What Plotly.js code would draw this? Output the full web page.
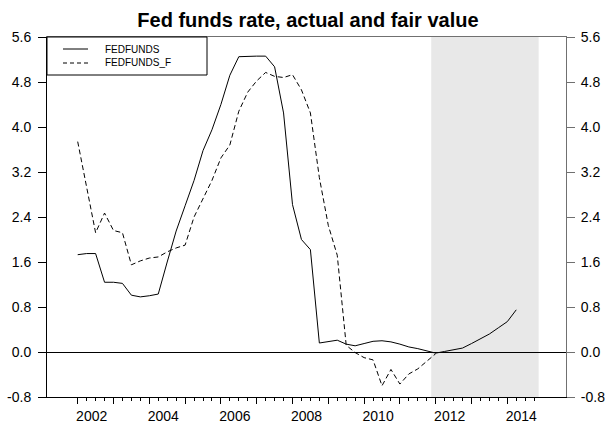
<!DOCTYPE html>
<html>
<head>
<meta charset="utf-8">
<script src="https://cdn.plot.ly/plotly-3.0.1.min.js"></script>
<style>
  html, body { margin: 0; padding: 0; background: #fff; }
  #chart { width: 611px; height: 423px; }
</style>
</head>
<body>
<div id="chart"></div>
<script>
// Quarterly periods, 2002Q1 .. 2014Q4
const quarters = [];
for (let y = 2002; y <= 2014; y++) {
  for (let q = 1; q <= 4; q++) quarters.push(y + 'Q' + q);
}

// Effective federal funds rate, percent (2002Q1 .. 2014Q2)
const fedfunds = [
  1.73, 1.75, 1.75, 1.24,
  1.24, 1.22, 1.01, 0.98,
  1.00, 1.03, 1.60, 2.15,
  2.60, 3.05, 3.58, 3.95,
  4.40, 4.92, 5.25, 5.26,
  5.26, 5.26, 5.07, 4.25,
  2.62, 2.00, 1.82, 0.16,
  0.19, 0.21, 0.14, 0.11,
  0.15, 0.19, 0.20, 0.18,
  0.14, 0.09, 0.06, 0.02,
  -0.02, 0.01, 0.04, 0.07,
  0.15, 0.24, 0.32, 0.43,
  0.54, 0.75
];

// Fitted ("fair value") rate, percent (2002Q1 .. 2012Q1)
const fedfundsF = [
  3.74, 2.95, 2.12, 2.47,
  2.16, 2.12, 1.55, 1.62,
  1.67, 1.69, 1.78, 1.85,
  1.90, 2.40, 2.72, 3.05,
  3.45, 3.68, 4.28, 4.62,
  4.82, 4.97, 4.90, 4.88,
  4.93, 4.66, 4.25, 3.10,
  2.25, 1.72, 0.12, -0.01,
  -0.10, -0.14, -0.60, -0.31,
  -0.57, -0.39, -0.30, -0.17,
  -0.03
];

// Forecast window
const shadeFrom = '2012Q1';
const shadeTo = '2014Q4';

// Y axis tick values
const yTicks = [-0.8, 0.0, 0.8, 1.6, 2.4, 3.2, 4.0, 4.8, 5.6];

function qToYear(s) {
  const y = parseInt(s.slice(0, 4), 10);
  const q = parseInt(s.slice(5), 10);
  return y + (q - 1) / 4;
}

const xAll = quarters.map(qToYear);
const majorVals = xAll.filter(v => Number.isInteger(v));
const majorText = majorVals.map(v => (v % 2 === 0 ? String(v) : ''));
const minorVals = xAll.filter(v => !Number.isInteger(v));

const xRange = [2001.1425, 2015.6395];
const yRange = [-0.8, 5.6];
const FONT = 'Liberation Sans, Arial, sans-serif';
const FRAME_GRAY = '#707070';

const traces = [
  {
    name: 'FEDFUNDS',
    x: quarters.slice(0, fedfunds.length).map(qToYear),
    y: fedfunds,
    type: 'scatter',
    mode: 'lines',
    line: { color: '#000', width: 1 },
    showlegend: false,
    hoverinfo: 'skip'
  },
  {
    name: 'FEDFUNDS_F',
    x: quarters.slice(0, fedfundsF.length).map(qToYear),
    y: fedfundsF,
    type: 'scatter',
    mode: 'lines',
    line: { color: '#000', width: 1, dash: '5px,3px' },
    showlegend: false,
    hoverinfo: 'skip'
  },
  // empty traces so the right-hand and top frame axes get drawn
  { x: [], y: [], xaxis: 'x', yaxis: 'y2', type: 'scatter', mode: 'lines', showlegend: false, hoverinfo: 'skip' },
  { x: [], y: [], xaxis: 'x2', yaxis: 'y', type: 'scatter', mode: 'lines', showlegend: false, hoverinfo: 'skip' }
];

// Legend box, drawn in paper coordinates at the top-left corner of the plot
const plotW = 611 - 47 - 45, plotH = 423 - 37 - 26;
const px = v => v / plotW;
const py = v => 1 - v / plotH;

const shapes = [
  {
    type: 'rect', xref: 'x', yref: 'paper',
    x0: qToYear(shadeFrom) - 0.125, x1: qToYear(shadeTo) + 0.125,
    y0: 0, y1: 1,
    fillcolor: '#e8e8e8', line: { width: 0 }, layer: 'below'
  },
  {
    type: 'rect', xref: 'paper', yref: 'paper',
    x0: 0, x1: px(160), y0: py(38), y1: 1,
    fillcolor: '#fff', line: { color: '#000', width: 1 }, layer: 'above'
  },
  {
    type: 'line', xref: 'paper', yref: 'paper',
    x0: px(16), x1: px(41), y0: py(12), y1: py(12),
    line: { color: '#000', width: 1 }
  },
  {
    type: 'line', xref: 'paper', yref: 'paper',
    x0: px(16), x1: px(41), y0: py(26), y1: py(26),
    line: { color: '#000', width: 1, dash: '4px,3px' }
  }
];

const annotations = [
  {
    text: 'FEDFUNDS', xref: 'paper', yref: 'paper',
    x: px(56), y: py(12), xanchor: 'left', yanchor: 'middle',
    showarrow: false, font: { family: FONT, size: 10, color: '#000' }
  },
  {
    text: 'FEDFUNDS_F', xref: 'paper', yref: 'paper',
    x: px(56), y: py(26), xanchor: 'left', yanchor: 'middle',
    showarrow: false, font: { family: FONT, size: 10, color: '#000' }
  }
];

const yCommon = {
  range: yRange,
  tickmode: 'array',
  tickvals: yTicks,
  ticktext: yTicks.map(v => v.toFixed(1)),
  ticks: 'outside',
  ticklen: 8,
  showgrid: false,
  fixedrange: true,
  tickfont: { family: FONT, size: 14, color: '#000' }
};

const layout = {
  width: 611,
  height: 423,
  margin: { l: 47, r: 45, t: 37, b: 26, pad: 0 },
  paper_bgcolor: '#fff',
  plot_bgcolor: '#fff',
  font: { family: FONT, color: '#000' },
  showlegend: false,
  title: {
    text: '<b>Fed funds rate, actual and fair value</b>',
    font: { family: FONT, size: 20, color: '#000' },
    x: 0.504, xanchor: 'center',
    y: 1 - 19.5 / 423, yref: 'container', yanchor: 'middle'
  },
  xaxis: {
    range: xRange,
    tickmode: 'array',
    tickvals: majorVals,
    ticktext: majorText,
    ticks: 'outside',
    ticklen: 6,
    tickcolor: '#000',
    ticklabelshift: 14,
    tickfont: { family: FONT, size: 14, color: '#000' },
    minor: {
      tickmode: 'array',
      tickvals: minorVals,
      ticks: 'outside',
      ticklen: 3,
      tickcolor: '#000',
      showgrid: false
    },
    showline: true,
    linecolor: '#000',
    linewidth: 1,
    showgrid: false,
    zeroline: false,
    fixedrange: true
  },
  xaxis2: {
    range: xRange,
    overlaying: 'x',
    side: 'top',
    anchor: 'y',
    showline: true,
    linecolor: FRAME_GRAY,
    linewidth: 1,
    ticks: '',
    showticklabels: false,
    showgrid: false,
    zeroline: false,
    fixedrange: true
  },
  yaxis: Object.assign({}, yCommon, {
    side: 'left',
    tickcolor: '#000',
    showline: true,
    linecolor: '#000',
    linewidth: 1,
    zeroline: true,
    zerolinecolor: '#000',
    zerolinewidth: 1,
    ticklabelstandoff: 4
  }),
  yaxis2: Object.assign({}, yCommon, {
    side: 'right',
    overlaying: 'y',
    anchor: 'x',
    tickcolor: FRAME_GRAY,
    showline: true,
    linecolor: FRAME_GRAY,
    linewidth: 1,
    zeroline: false,
    ticklabelstandoff: 3
  }),
  shapes: shapes,
  annotations: annotations
};

Plotly.newPlot('chart', traces, layout, { displayModeBar: false, staticPlot: true });
</script>
</body>
</html>
